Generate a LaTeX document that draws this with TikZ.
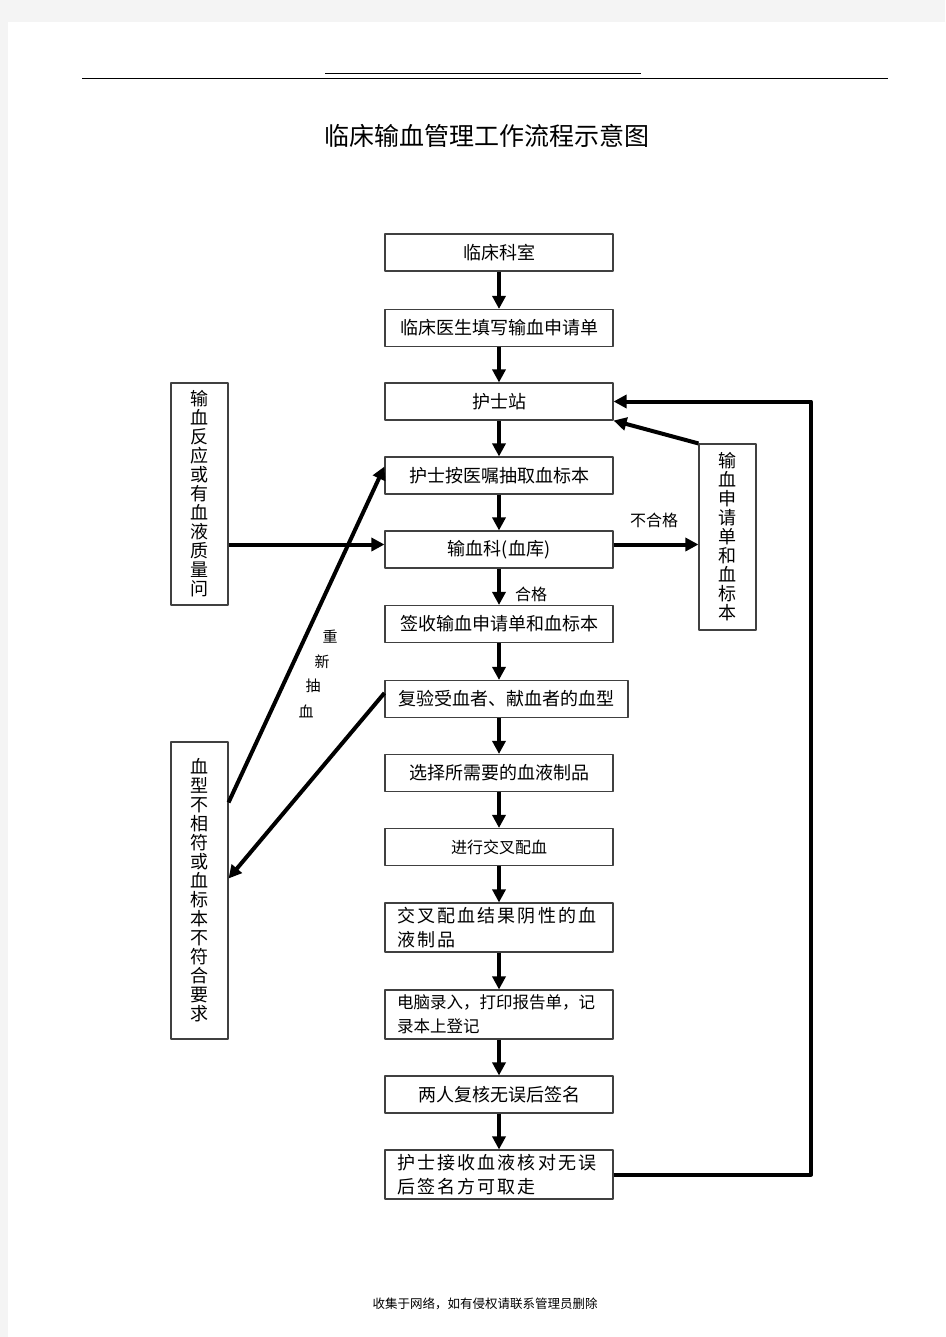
\documentclass[tikz,border=0pt]{standalone}
\usepackage{fontspec}
\setmainfont{Noto Sans CJK SC}
\usetikzlibrary{arrows.meta,calc}
\definecolor{pagebg}{RGB}{244,244,244}
\begin{document}
\begin{tikzpicture}[x=1pt,y=-1pt, line join=round,
	box/.style={draw=black!75, line width=1.1pt, minimum width=228pt, minimum height=37pt, inner sep=0pt, font=\fontsize{18}{20}\selectfont},
	tbox/.style={box, minimum height=49pt, text width=204pt, align=left, inner xsep=12pt, font=\fontsize{18}{24}\selectfont},
	vbox/.style={draw=black!75, line width=1.1pt, minimum width=57pt, inner sep=0pt, align=center, font=\fontsize{18}{19}\selectfont},
	arr/.style={-{Triangle[length=13pt,width=13pt]}, line width=4pt},
	lbl/.style={font=\fontsize{16}{18}\selectfont}]
	% page
	\fill[pagebg] (0,0) rectangle (945,1337);
	\fill[white] (8,22) rectangle (945,1337);
	\draw[line width=1pt] (325,74)--(641,74);
	\draw[line width=1pt] (82,79)--(888,79);
	\node[font=\fontsize{25}{28}\selectfont] (title) at (487,136) {临床输血管理工作流程示意图};
	% centre column
	\coordinate (col) at (499,0);
	\node[box] (ks) at (499,252.5) {临床科室};
	\node[box] (ys) at (499,328) {临床医生填写输血申请单};
	\node[box] (hs) at (499,401.5) {护士站};
	\node[box] (cx) at (499,475.5) {护士按医嘱抽取血标本};
	\node[box] (sxk) at (499,549.5) {输血科(血库)};
	\node[box] (qs) at (499,624) {签收输血申请单和血标本};
	\node[box, minimum width=243pt] (fy) at (506.5,699) {复验受血者、献血者的血型};
	\node[box] (xz) at (499,773) {选择所需要的血液制品};
	\node[box, font=\fontsize{16}{18}\selectfont] (jc) at (499,847) {进行交叉配血};
	\node[tbox] (jg) at (499,927.5) {\addfontfeature{LetterSpace=12}交叉配血结果阴性的血\\液制品};
	\node[tbox, font=\fontsize{16.5}{24}\selectfont] (dn) at (499,1014.5) {电脑录入，打印报告单，记\\录本上登记};
	\node[box] (fh) at (499,1094.5) {两人复核无误后签名};
	\node[tbox] (js) at (499,1174.5) {\addfontfeature{LetterSpace=12}护士接收血液核对无误\\后签名方可取走};
	% side boxes
	\node[vbox, minimum height=222pt] (fy1) at (199.5,494) {输\\血\\反\\应\\或\\有\\血\\液\\质\\量\\问};
	\node[vbox, minimum height=297pt] (bx) at (199.5,890.5) {血\\型\\不\\相\\符\\或\\血\\标\\本\\不\\符\\合\\要\\求};
	\node[vbox, minimum height=186pt] (sq) at (727.5,537) {输\\血\\申\\请\\单\\和\\血\\标\\本};
	% arrows down the column
	\foreach \a/\b in {ks/ys, ys/hs, hs/cx, cx/sxk, sxk/qs, qs/fy, fy/xz, xz/jc, jc/jg, jg/dn, dn/fh, fh/js}
		\draw[arr] (col|-\a.south) -- (col|-\b.north);
	\node[lbl] (hg) at (531,594) {合格};
	\coordinate (mid) at ($(sxk.west)+(0,-5)$);
	\draw[arr] (fy1.east|-mid) -- (mid);
	\draw[arr] (sxk.east|-mid) -- (sq.west|-mid);
	\node[lbl] (bhg) at (654,520) {不合格};
	\draw[arr] (sq.north west) -- (hs.south east);
	\draw[arr] (js.east) -- (811,1174.5) |- (hs.east);
	\draw[arr] ($(bx.north east)+(0,61)$) -- ($(cx.west)+(0,-9)$);
	\draw[arr] ($(fy.west)+(0,-6)$) -- ($(bx.east)+(0,-12)$);
	\foreach \ch/\x/\y [count=\i] in {重/330/637, 新/322/662, 抽/313/686, 血/306/711}
		\node[lbl, font=\fontsize{15}{17}\selectfont] (cxl\i) at (\x,\y) {\ch};
	\node[font=\fontsize{12.5}{14}\selectfont] (foot) at (485,1304) {收集于网络，如有侵权请联系管理员删除};
\end{tikzpicture}
\end{document}
